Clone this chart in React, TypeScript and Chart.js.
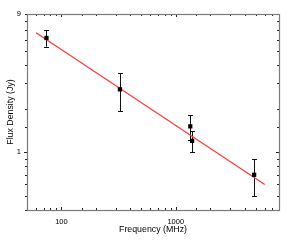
import React, { useEffect, useRef } from 'react';
import { Chart, registerables } from 'chart.js';

Chart.register(...registerables);

const freqMHz = [74, 325, 1340, 1390, 4850];
const fluxJy = [6.15, 2.72, 1.51, 1.2, 0.7];
const fluxErr = [0.8, 0.8, 0.3, 0.2, 0.2];
const fitFreq = [60, 6000];
const fitFlux = [6.68, 0.6];
const xLabelTicks = [100, 1000];
const yLabelTicks = [1, 9];
const xRange = [50, 8000];
const yRange = [0.4, 9];

const near = (a: number, b: number) => Math.abs(a - b) < 1e-6 * Math.max(1, Math.abs(b));
const isDecade = (v: number) => near(Math.log10(v), Math.round(Math.log10(v)));

const errorBarPlugin = {
  id: 'errorBars',
  beforeDatasetsDraw(chart: any) {
    const { ctx, scales } = chart;
    const xs = scales.x;
    const ys = scales.y;
    ctx.save();
    ctx.strokeStyle = '#111';
    ctx.lineWidth = 1;
    for (let i = 0; i < freqMHz.length; i++) {
      const px = Math.round(xs.getPixelForValue(freqMHz[i])) + 0.5;
      const top = ys.getPixelForValue(fluxJy[i] + fluxErr[i]);
      const bot = ys.getPixelForValue(fluxJy[i] - fluxErr[i]);
      ctx.beginPath();
      ctx.moveTo(px, top);
      ctx.lineTo(px, bot);
      ctx.moveTo(px - 2.5, Math.round(top) + 0.5);
      ctx.lineTo(px + 2.5, Math.round(top) + 0.5);
      ctx.moveTo(px - 2.5, Math.round(bot) + 0.5);
      ctx.lineTo(px + 2.5, Math.round(bot) + 0.5);
      ctx.stroke();
    }
    ctx.restore();
  },
};

const framePlugin = {
  id: 'frameTicks',
  afterDraw(chart: any) {
    const { ctx, chartArea, scales } = chart;
    const { left, right, top, bottom } = chartArea;
    ctx.save();
    ctx.strokeStyle = '#222';
    ctx.lineWidth = 1;
    ctx.beginPath();
    for (const t of scales.x.ticks) {
      const px = Math.round(scales.x.getPixelForValue(t.value)) + 0.5;
      const len = isDecade(t.value) ? 3 : 2;
      ctx.moveTo(px, bottom);
      ctx.lineTo(px, bottom - len);
      ctx.moveTo(px, top);
      ctx.lineTo(px, top + len);
    }
    for (const t of scales.y.ticks) {
      const py = Math.round(scales.y.getPixelForValue(t.value)) + 0.5;
      const len = isDecade(t.value) ? 3 : 2;
      ctx.moveTo(left, py);
      ctx.lineTo(left - len, py);
      ctx.moveTo(right, py);
      ctx.lineTo(right - len, py);
    }
    ctx.stroke();
    ctx.strokeStyle = '#7a7a7a';
    ctx.lineWidth = 1.2;
    ctx.strokeRect(Math.round(left) + 0.5, Math.round(top) + 0.5, Math.round(right - left), Math.round(bottom - top));
    ctx.restore();
  },
};

export default function App() {
  const ref = useRef<HTMLCanvasElement | null>(null);
  useEffect(() => {
    if (!ref.current) return;
    const chart = new Chart(ref.current, {
      type: 'scatter',
      data: {
        datasets: [
          {
            label: 'fit',
            data: fitFreq.map((f, i) => ({ x: f, y: fitFlux[i] })),
            showLine: true,
            borderColor: '#ff3b3b',
            borderWidth: 1.3,
            pointRadius: 0,
            order: 2,
          },
          {
            label: 'data',
            data: freqMHz.map((f, i) => ({ x: f, y: fluxJy[i] })),
            showLine: false,
            pointStyle: 'rect',
            pointRadius: 3,
            backgroundColor: '#000',
            borderColor: '#000',
            borderWidth: 0,
            order: 1,
          },
        ],
      },
      options: {
        responsive: false,
        animation: false,
        devicePixelRatio: 1,
        layout: { padding: { top: 14, right: 19, left: 0, bottom: 0 } },
        plugins: { legend: { display: false }, tooltip: { enabled: false } },
        scales: {
          x: {
            type: 'logarithmic',
            min: xRange[0],
            max: xRange[1],
            grid: { display: false, drawTicks: false },
            border: { display: false },
            afterFit: (s: any) => { s.height = 31; },
            ticks: {
              autoSkip: false,
              maxRotation: 0,
              padding: 7,
              color: '#000',
              font: { family: 'Liberation Sans, Arial, sans-serif', size: 7.5 },
              callback: (v: any) => (xLabelTicks.some((t) => near(Number(v), t)) ? String(v) : ''),
            },
            title: {
              display: true,
              text: 'Frequency (MHz)',
              color: '#000',
              font: { family: 'Liberation Sans, Arial, sans-serif', size: 8.8 },
              padding: { top: 0, bottom: 6 },
            },
          },
          y: {
            type: 'logarithmic',
            min: yRange[0],
            max: yRange[1],
            grid: { display: false, drawTicks: false },
            border: { display: false },
            afterFit: (s: any) => { s.width = 27; },
            ticks: {
              autoSkip: false,
              padding: 6,
              color: '#000',
              font: { family: 'Liberation Sans, Arial, sans-serif', size: 7.5 },
              callback: (v: any) => (yLabelTicks.some((t) => near(Number(v), t)) ? String(v) : ''),
            },
            title: {
              display: true,
              text: 'Flux Density (Jy)',
              color: '#000',
              font: { family: 'Liberation Sans, Arial, sans-serif', size: 8.8 },
              padding: { top: 5, bottom: 0 },
            },
          },
        },
      },
      plugins: [errorBarPlugin, framePlugin],
    });
    return () => chart.destroy();
  }, []);
  return (
    <div style={{ position: 'absolute', left: 0, top: 0, width: 298, height: 241, background: '#fff' }}>
      <canvas ref={ref} width={298} height={241} />
    </div>
  );
}
